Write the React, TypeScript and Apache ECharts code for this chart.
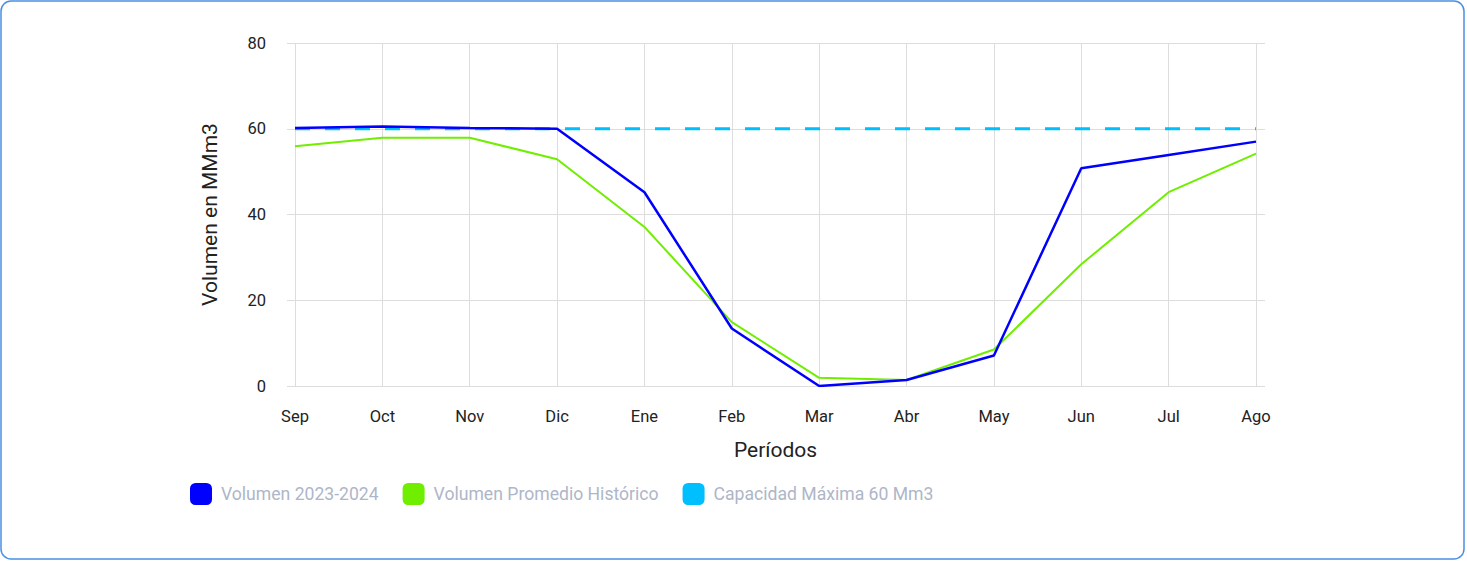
import React, { useEffect, useRef } from "react";
import * as echarts from "echarts";

const categories = ["Sep", "Oct", "Nov", "Dic", "Ene", "Feb", "Mar", "Abr", "May", "Jun", "Jul", "Ago"];
const volumen2324 = [60.2, 60.5, 60.2, 60.0, 45.2, 13.4, 0.0, 1.4, 7.1, 50.8, 53.9, 57.0];
const volumenPromedio = [55.9, 57.9, 57.9, 52.9, 37.1, 14.9, 1.9, 1.4, 8.5, 28.4, 45.2, 54.2];
const capacidadMaxima = [60, 60, 60, 60, 60, 60, 60, 60, 60, 60, 60, 60];
const seriesNames = ["Volumen 2023-2024", "Volumen Promedio Histórico", "Capacidad Máxima 60 Mm3"];
const yTicks = { min: 0, max: 80, interval: 20 };

export default function App() {
  const ref = useRef<HTMLDivElement>(null);
  useEffect(() => {
    document.body.style.margin = "0";
    const chart = echarts.init(ref.current!, null, { renderer: "svg" });
    const font = "Roboto, 'Noto Sans', sans-serif";
    chart.setOption({
      animation: false,
      textStyle: { fontFamily: font },
      graphic: [
        {
          type: "rect",
          shape: { x: 1, y: 1, width: 1463, height: 558, r: 10 },
          style: { fill: "none", stroke: "#4A90E2", lineWidth: 1.5 },
          silent: true,
        },
      ],
      grid: { left: 295, right: 211, top: 43, bottom: 177, containLabel: false },
      legend: {
        left: 185,
        top: 478,
        itemWidth: 22,
        itemHeight: 22,
        itemGap: 24,
        icon: "roundRect",
        data: seriesNames,
        textStyle: { color: "#AEB6C8", fontSize: 17.6, fontFamily: font, padding: [0, 0, 0, 4] },
      },
      xAxis: {
        type: "category",
        data: categories,
        boundaryGap: false,
        name: "Períodos",
        nameLocation: "middle",
        nameGap: 53,
        nameTextStyle: { fontSize: 21, color: "#222", fontFamily: font },
        axisLine: { show: false },
        axisTick: { show: false },
        axisLabel: { color: "#222", fontSize: 16.5, margin: 22, fontFamily: font },
        splitLine: { show: true, lineStyle: { color: "#DDDDDD", width: 1 } },
      },
      yAxis: [
        {
          type: "value",
          min: yTicks.min,
          max: yTicks.max,
          interval: yTicks.interval,
          name: "Volumen en MMm3",
          nameLocation: "middle",
          nameGap: 75,
          nameTextStyle: { fontSize: 21, color: "#222", fontFamily: font },
          axisLine: { show: false },
          axisTick: { show: true, length: 8, lineStyle: { color: "#DDDDDD" } },
          axisLabel: { color: "#222", fontSize: 16.5, margin: 29, fontFamily: font },
          splitLine: { show: true, lineStyle: { color: "#DDDDDD", width: 1 } },
        },
        {
          type: "value",
          position: "right",
          min: yTicks.min,
          max: yTicks.max,
          interval: yTicks.interval,
          axisLine: { show: false },
          axisTick: { show: true, length: 9, lineStyle: { color: "#DDDDDD" } },
          axisLabel: { show: false },
          splitLine: { show: false },
        },
      ],
      series: [
        {
          name: seriesNames[0],
          type: "line",
          data: volumen2324,
          z: 4,
          showSymbol: false,
          symbol: "none",
          color: "#0000FF",
          lineStyle: { color: "#0000FF", width: 2.5 },
        },
        {
          name: seriesNames[1],
          type: "line",
          data: volumenPromedio,
          z: 3,
          showSymbol: false,
          symbol: "none",
          color: "#70EE00",
          lineStyle: { color: "#70EE00", width: 2 },
        },
        {
          name: seriesNames[2],
          type: "line",
          data: capacidadMaxima,
          z: 2,
          showSymbol: false,
          symbol: "none",
          color: "#00BFFF",
          lineStyle: { color: "#00BFFF", width: 3, type: [15, 15] },
        },
      ],
    });
    return () => chart.dispose();
  }, []);
  return <div ref={ref} style={{ width: 1467, height: 563 }} />;
}
